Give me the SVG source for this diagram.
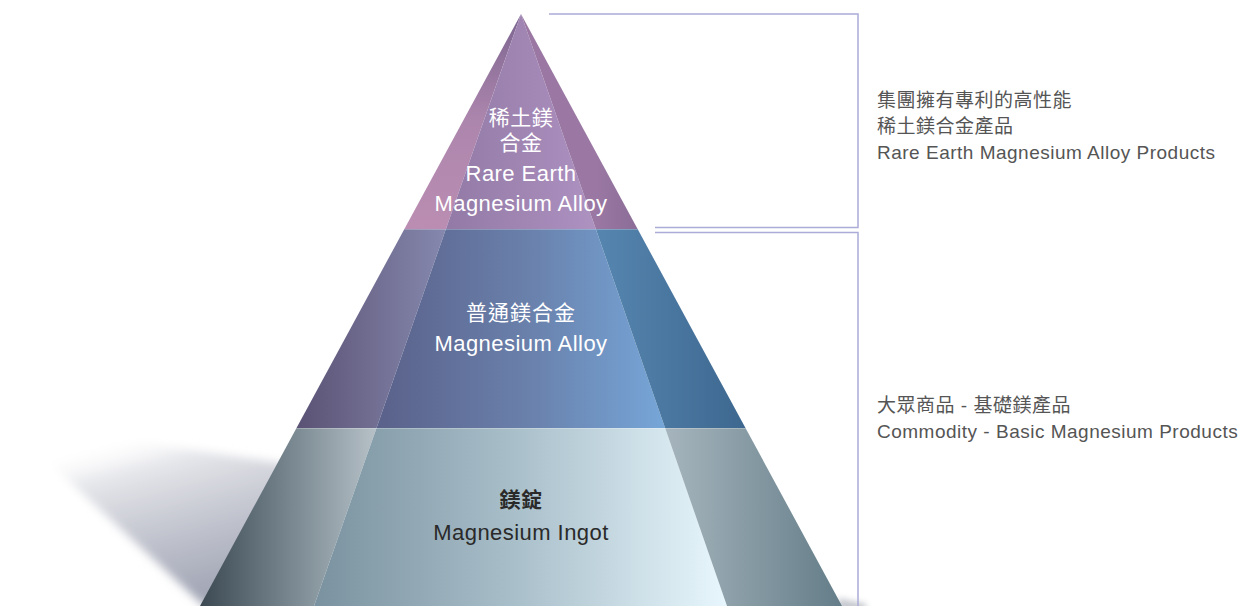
<svg xmlns="http://www.w3.org/2000/svg" width="1247" height="606" viewBox="0 0 1247 606">
<style>
  .lbl { font-family: "Liberation Sans", "Noto Sans CJK TC", sans-serif; text-anchor: middle; }
  .w { fill: #ffffff; }
  .k { fill: #2a2a2a; }
  .en { font-size: 22px; letter-spacing: 0.45px; }
  .cj { font-size: 21px; letter-spacing: 0.5px; }
  .note { font-family: "Liberation Sans", "Noto Sans CJK TC", sans-serif; font-size: 19px; fill: #555555; letter-spacing: 0.5px; }
  .br { fill: none; stroke: #abacd8; stroke-width: 1.5; }
  .sep { stroke: #ffffff; stroke-opacity: 0.25; stroke-width: 1; }
</style>
<defs>
  <filter id="blur" x="-20%" y="-20%" width="140%" height="140%"><feGaussianBlur stdDeviation="5"/></filter>
  <filter id="blur2" x="-50%" y="-50%" width="200%" height="200%"><feGaussianBlur stdDeviation="3"/></filter>
  <linearGradient id="shadowG" gradientUnits="userSpaceOnUse" x1="120" y1="436" x2="165" y2="600">
    <stop offset="0" stop-color="#ffffff" stop-opacity="0"/>
    <stop offset="0.22" stop-color="#e6e7eb"/>
    <stop offset="0.6" stop-color="#c4c6d0"/>
    <stop offset="1" stop-color="#a4a8b7"/>
  </linearGradient>
  <!-- top band -->
  <linearGradient id="t1" gradientUnits="userSpaceOnUse" x1="0" y1="14" x2="0" y2="229">
    <stop offset="0" stop-color="#7c6590"/>
    <stop offset="0.5" stop-color="#ad86ad"/>
    <stop offset="1" stop-color="#bb8db2"/>
  </linearGradient>
  <linearGradient id="t2" gradientUnits="userSpaceOnUse" x1="446" y1="0" x2="596" y2="0">
    <stop offset="0" stop-color="#937aa6"/>
    <stop offset="0.8" stop-color="#a88cbb"/>
    <stop offset="1" stop-color="#ae92c0"/>
  </linearGradient>
  <linearGradient id="t3" gradientUnits="userSpaceOnUse" x1="596" y1="0" x2="638" y2="0">
    <stop offset="0" stop-color="#9a78a3"/>
    <stop offset="1" stop-color="#8b6d97"/>
  </linearGradient>
  <!-- middle band -->
  <linearGradient id="m1" gradientUnits="userSpaceOnUse" x1="296" y1="0" x2="446" y2="0">
    <stop offset="0" stop-color="#5a5274"/>
    <stop offset="1" stop-color="#8688ae"/>
  </linearGradient>
  <linearGradient id="m2" gradientUnits="userSpaceOnUse" x1="376" y1="0" x2="665" y2="0">
    <stop offset="0" stop-color="#5a618a"/>
    <stop offset="0.55" stop-color="#6a82ad"/>
    <stop offset="1" stop-color="#76a6d8"/>
  </linearGradient>
  <linearGradient id="m3" gradientUnits="userSpaceOnUse" x1="596" y1="0" x2="746" y2="0">
    <stop offset="0" stop-color="#5686b0"/>
    <stop offset="1" stop-color="#3d678f"/>
  </linearGradient>
  <!-- bottom band -->
  <linearGradient id="b1" gradientUnits="userSpaceOnUse" x1="200" y1="0" x2="376" y2="0">
    <stop offset="0" stop-color="#3c4952"/>
    <stop offset="0.5" stop-color="#76858e"/>
    <stop offset="1" stop-color="#b6c1c7"/>
  </linearGradient>
  <linearGradient id="b2" gradientUnits="userSpaceOnUse" x1="314" y1="0" x2="727" y2="0">
    <stop offset="0" stop-color="#7a929f"/>
    <stop offset="0.5" stop-color="#aac0cb"/>
    <stop offset="1" stop-color="#e8f7fd"/>
  </linearGradient>
  <linearGradient id="b3" gradientUnits="userSpaceOnUse" x1="665" y1="0" x2="842" y2="0">
    <stop offset="0" stop-color="#a6b5bd"/>
    <stop offset="1" stop-color="#647d88"/>
  </linearGradient>
</defs>

<rect width="1247" height="606" fill="#ffffff"/>

<!-- floor shadow -->
<polygon points="12,428 140,442 300,466 300,606 204,606" fill="url(#shadowG)" filter="url(#blur)"/>
<polygon points="838,598 866,604 866,612 838,612" fill="#9ea3ae" opacity="0.6" filter="url(#blur2)"/>

<g id="tier-top">
  <polygon points="521,14 404.4,229 445.9,229" fill="url(#t1)"/>
  <polygon points="521,14 445.9,229 595.8,229" fill="url(#t2)"/>
  <polygon points="521,14 595.8,229 637.6,229" fill="url(#t3)"/>
  <text class="lbl w cj" x="521" y="125">稀土鎂</text>
  <text class="lbl w cj" x="521" y="150">合金</text>
  <text class="lbl w en" x="521" y="181">Rare Earth</text>
  <text class="lbl w en" x="521" y="211">Magnesium Alloy</text>
</g>

<g id="tier-middle">
  <polygon points="404.4,229 296.5,428 376.5,428 445.9,229" fill="url(#m1)"/>
  <polygon points="445.9,229 376.5,428 665.1,428 595.8,229" fill="url(#m2)"/>
  <polygon points="595.8,229 665.1,428 745.5,428 637.6,229" fill="url(#m3)"/>
  <line class="sep" x1="404.4" y1="229.5" x2="637.6" y2="229.5"/>
  <text class="lbl w cj" x="521" y="320" style="letter-spacing:1px">普通鎂合金</text>
  <text class="lbl w en" x="521" y="351">Magnesium Alloy</text>
</g>

<g id="tier-bottom">
  <polygon points="296.5,428 200,606 314,606 376.5,428" fill="url(#b1)"/>
  <polygon points="376.5,428 314,606 727,606 665.1,428" fill="url(#b2)"/>
  <polygon points="665.1,428 727,606 842,606 745.5,428" fill="url(#b3)"/>
  <line class="sep" x1="296.5" y1="428.5" x2="745.5" y2="428.5"/>
  <text class="lbl k cj" x="521" y="507" style="font-weight:bold">鎂錠</text>
  <text class="lbl k en" x="521" y="540">Magnesium Ingot</text>
</g>

<g id="connectors">
  <path class="br" d="M549,14 H858 V227.5 H655"/>
  <path class="br" d="M655,232.5 H858 V606"/>
</g>

<g id="note-top">
  <text class="note" x="877" y="107">集團擁有專利的高性能</text>
  <text class="note" x="877" y="133">稀土鎂合金產品</text>
  <text class="note" x="877" y="159">Rare Earth Magnesium Alloy Products</text>
</g>

<g id="note-bottom">
  <text class="note" x="877" y="412">大眾商品 - 基礎鎂產品</text>
  <text class="note" x="877" y="438">Commodity - Basic Magnesium Products</text>
</g>
</svg>
